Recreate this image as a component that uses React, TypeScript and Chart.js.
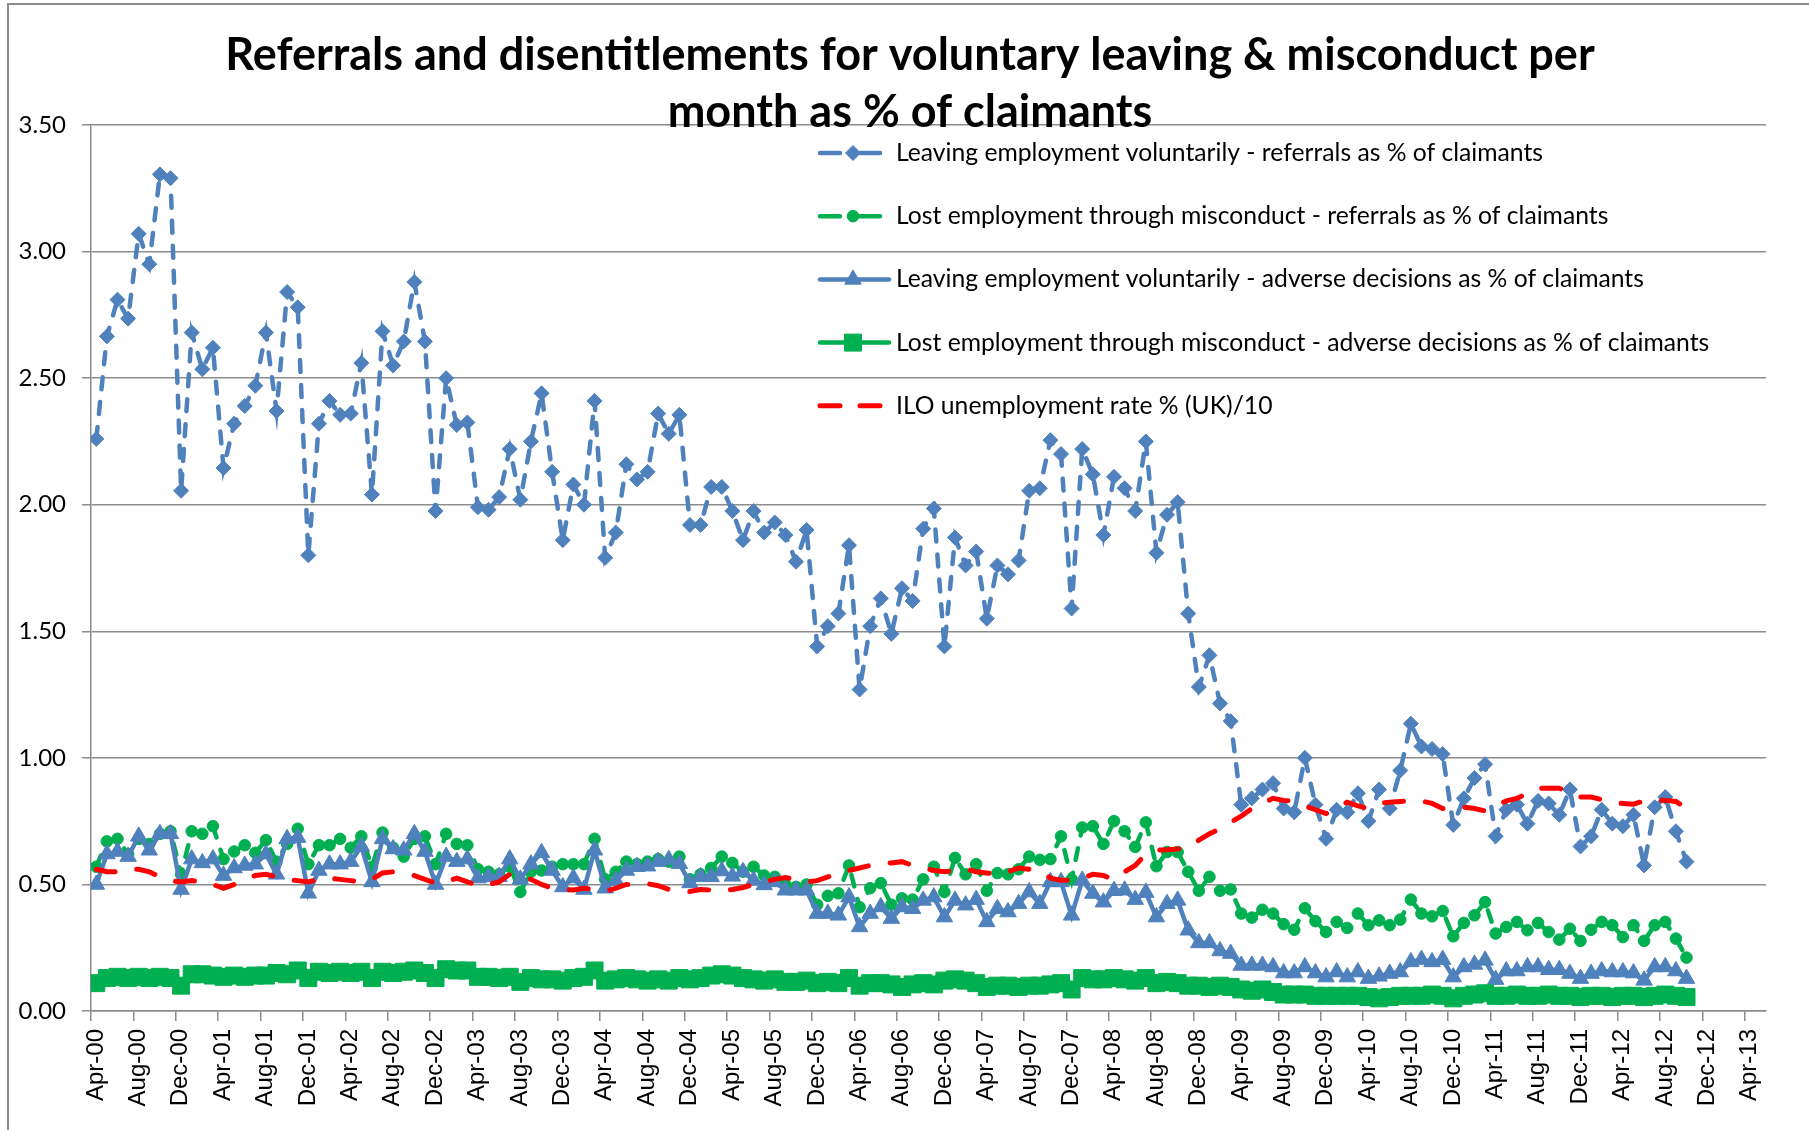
import React, { useEffect, useRef } from 'react';
import { Chart, registerables } from 'chart.js';

Chart.register(...registerables);

const TITLE_LINES = [
  'Referrals and disentitlements for voluntary leaving & misconduct per',
  'month as % of claimants',
];

const TICK_LABELS = [
  'Apr-00', 'Aug-00', 'Dec-00', 'Apr-01', 'Aug-01', 'Dec-01', 'Apr-02', 'Aug-02', 'Dec-02', 'Apr-03',
  'Aug-03', 'Dec-03', 'Apr-04', 'Aug-04', 'Dec-04', 'Apr-05', 'Aug-05', 'Dec-05', 'Apr-06', 'Aug-06',
  'Dec-06', 'Apr-07', 'Aug-07', 'Dec-07', 'Apr-08', 'Aug-08', 'Dec-08', 'Apr-09', 'Aug-09', 'Dec-09',
  'Apr-10', 'Aug-10', 'Dec-10', 'Apr-11', 'Aug-11', 'Dec-11', 'Apr-12', 'Aug-12', 'Dec-12', 'Apr-13',
];

const SERIES_NAMES = [
  'Leaving employment voluntarily - referrals as % of claimants',
  'Lost employment through misconduct - referrals as % of claimants',
  'Leaving employment voluntarily - adverse decisions as % of claimants',
  'Lost employment through misconduct - adverse decisions as % of claimants',
  'ILO unemployment rate % (UK)/10',
];

// monthly values, Apr-00 .. Oct-12
const VOL_REFERRALS = [
  2.26, 2.665, 2.81, 2.735, 3.07, 2.95, 3.305, 3.29, 2.055, 2.68,
  2.535, 2.62, 2.145, 2.32, 2.39, 2.47, 2.68, 2.37, 2.84, 2.78,
  1.80, 2.32, 2.41, 2.355, 2.36, 2.56, 2.04, 2.685, 2.55, 2.645,
  2.88, 2.645, 1.975, 2.50, 2.315, 2.325, 1.99, 1.98, 2.03, 2.22,
  2.02, 2.25, 2.44, 2.13, 1.86, 2.08, 2.00, 2.41, 1.79, 1.89,
  2.16, 2.10, 2.13, 2.36, 2.28, 2.355, 1.92, 1.92, 2.07, 2.07,
  1.975, 1.86, 1.975, 1.89, 1.93, 1.88, 1.775, 1.90, 1.44, 1.52,
  1.57, 1.84, 1.27, 1.52, 1.63, 1.49, 1.67, 1.62, 1.905, 1.985,
  1.44, 1.87, 1.76, 1.815, 1.55, 1.76, 1.725, 1.78, 2.055, 2.065,
  2.255, 2.20, 1.59, 2.22, 2.12, 1.88, 2.11, 2.065, 1.975, 2.25,
  1.81, 1.96, 2.01, 1.57, 1.28, 1.405, 1.215, 1.145, 0.815, 0.84,
  0.875, 0.90, 0.80, 0.785, 1.00, 0.815, 0.68, 0.795, 0.785, 0.86,
  0.75, 0.875, 0.80, 0.95, 1.135, 1.045, 1.035, 1.015, 0.735, 0.84,
  0.92, 0.975, 0.69, 0.795, 0.815, 0.74, 0.83, 0.82, 0.775, 0.875,
  0.65, 0.69, 0.795, 0.74, 0.73, 0.775, 0.575, 0.805, 0.845, 0.71,
  0.59,
];

const MIS_REFERRALS = [
  0.57, 0.67, 0.68, 0.62, 0.68, 0.66, 0.70, 0.71, 0.54, 0.71,
  0.70, 0.73, 0.60, 0.63, 0.655, 0.625, 0.675, 0.59, 0.66, 0.72,
  0.58, 0.655, 0.655, 0.68, 0.645, 0.69, 0.57, 0.705, 0.645, 0.61,
  0.68, 0.69, 0.58, 0.70, 0.66, 0.655, 0.56, 0.55, 0.54, 0.57,
  0.47, 0.55, 0.555, 0.57, 0.58, 0.58, 0.58, 0.68, 0.52, 0.55,
  0.59, 0.58, 0.59, 0.60, 0.59, 0.61, 0.52, 0.54, 0.565, 0.61,
  0.585, 0.55, 0.57, 0.535, 0.53, 0.50, 0.49, 0.50, 0.42, 0.455,
  0.465, 0.575, 0.41, 0.485, 0.505, 0.42, 0.445, 0.44, 0.52, 0.57,
  0.47, 0.605, 0.54, 0.58, 0.475, 0.545, 0.54, 0.56, 0.61, 0.597,
  0.60, 0.69, 0.52, 0.725, 0.73, 0.66, 0.75, 0.71, 0.648, 0.745,
  0.572, 0.628, 0.628, 0.55, 0.475, 0.53, 0.475, 0.48, 0.385, 0.369,
  0.40, 0.385, 0.343, 0.321, 0.406, 0.355, 0.312, 0.352, 0.328, 0.385,
  0.339, 0.358, 0.339, 0.361, 0.44, 0.385, 0.374, 0.395, 0.295, 0.348,
  0.378, 0.43, 0.306, 0.332, 0.352, 0.319, 0.348, 0.312, 0.282, 0.325,
  0.277, 0.321, 0.352, 0.339, 0.292, 0.339, 0.277, 0.339, 0.352, 0.286,
  0.211,
];

const VOL_ADVERSE = [
  0.50, 0.62, 0.63, 0.61, 0.69, 0.635, 0.70, 0.70, 0.48, 0.60,
  0.585, 0.60, 0.535, 0.565, 0.575, 0.58, 0.62, 0.54, 0.68, 0.685,
  0.465, 0.555, 0.58, 0.58, 0.59, 0.65, 0.51, 0.68, 0.64, 0.635,
  0.70, 0.63, 0.50, 0.61, 0.59, 0.60, 0.525, 0.53, 0.53, 0.60,
  0.52, 0.58, 0.625, 0.555, 0.49, 0.525, 0.48, 0.635, 0.485, 0.515,
  0.555, 0.57, 0.572, 0.59, 0.598, 0.582, 0.506, 0.53, 0.53, 0.553,
  0.532, 0.55, 0.516, 0.498, 0.51, 0.477, 0.477, 0.477, 0.385, 0.385,
  0.378, 0.45, 0.332, 0.385, 0.411, 0.365, 0.411, 0.404, 0.437, 0.45,
  0.371, 0.437, 0.418, 0.44, 0.352, 0.404, 0.391, 0.424, 0.47, 0.424,
  0.51, 0.51, 0.378, 0.516, 0.464, 0.43, 0.475, 0.477, 0.44, 0.468,
  0.371, 0.424, 0.437, 0.319, 0.269, 0.269, 0.237, 0.227, 0.18, 0.18,
  0.18, 0.174, 0.15, 0.15, 0.174, 0.15, 0.134, 0.154, 0.134, 0.154,
  0.128, 0.137, 0.148, 0.154, 0.194, 0.203, 0.194, 0.203, 0.134, 0.174,
  0.184, 0.20, 0.124, 0.158, 0.158, 0.174, 0.174, 0.163, 0.163, 0.148,
  0.128, 0.148, 0.158, 0.154, 0.154, 0.15, 0.121, 0.174, 0.174, 0.158,
  0.128,
];

const MIS_ADVERSE = [
  0.11, 0.13, 0.135, 0.13, 0.135, 0.13, 0.135, 0.13, 0.10, 0.145,
  0.145, 0.14, 0.135, 0.14, 0.135, 0.14, 0.14, 0.15, 0.145, 0.16,
  0.13, 0.155, 0.15, 0.155, 0.15, 0.155, 0.13, 0.155, 0.15, 0.155,
  0.16, 0.15, 0.13, 0.165, 0.16, 0.16, 0.135, 0.135, 0.13, 0.135,
  0.115, 0.13, 0.125, 0.125, 0.12, 0.13, 0.135, 0.16, 0.12, 0.125,
  0.13, 0.125, 0.12, 0.125, 0.12, 0.13, 0.125, 0.13, 0.14, 0.145,
  0.14, 0.13, 0.125, 0.12, 0.125, 0.115, 0.115, 0.12, 0.11, 0.115,
  0.11, 0.13, 0.10, 0.11, 0.11, 0.105, 0.095, 0.105, 0.11, 0.105,
  0.12, 0.125, 0.12, 0.11, 0.095, 0.10, 0.10, 0.095, 0.10, 0.10,
  0.105, 0.11, 0.085, 0.13, 0.125, 0.125, 0.13, 0.125, 0.12, 0.13,
  0.11, 0.115, 0.11, 0.10, 0.10, 0.095, 0.10, 0.095, 0.085, 0.08,
  0.085, 0.075, 0.065, 0.065, 0.065, 0.06, 0.06, 0.06, 0.06, 0.06,
  0.055, 0.05, 0.055, 0.06, 0.06, 0.06, 0.065, 0.06, 0.05, 0.06,
  0.065, 0.07, 0.06, 0.06, 0.065, 0.06, 0.06, 0.065, 0.06, 0.06,
  0.055, 0.06, 0.06, 0.055, 0.06, 0.06, 0.055, 0.06, 0.065, 0.06,
  0.055,
];

// Apr-00 .. Nov-12
const ILO_RATE = [
  0.56, 0.55, 0.55, 0.56, 0.56, 0.55, 0.53, 0.515, 0.51, 0.515,
  0.51, 0.50, 0.485, 0.50, 0.52, 0.535, 0.54, 0.53, 0.52, 0.515,
  0.51, 0.52, 0.525, 0.52, 0.515, 0.51, 0.52, 0.545, 0.55, 0.545,
  0.535, 0.52, 0.505, 0.51, 0.525, 0.51, 0.495, 0.50, 0.51, 0.54,
  0.53, 0.52, 0.50, 0.485, 0.48, 0.478, 0.485, 0.48, 0.472, 0.485,
  0.50, 0.50, 0.503, 0.495, 0.48, 0.476, 0.472, 0.48, 0.478, 0.473,
  0.48, 0.488, 0.50, 0.51, 0.52, 0.527, 0.52, 0.51, 0.515, 0.53,
  0.54, 0.555, 0.565, 0.575, 0.583, 0.585, 0.59, 0.575, 0.565, 0.555,
  0.55, 0.555, 0.562, 0.55, 0.545, 0.54, 0.55, 0.565, 0.56, 0.555,
  0.525, 0.517, 0.517, 0.525, 0.54, 0.535, 0.52, 0.55, 0.575, 0.62,
  0.635, 0.637, 0.64, 0.645, 0.675, 0.70, 0.72, 0.745, 0.77, 0.80,
  0.82, 0.84, 0.832, 0.828, 0.81, 0.795, 0.78, 0.80, 0.825, 0.81,
  0.80, 0.82, 0.825, 0.828, 0.83, 0.83, 0.82, 0.80, 0.80, 0.805,
  0.80, 0.79, 0.81, 0.83, 0.84, 0.86, 0.88, 0.88, 0.88, 0.86,
  0.845, 0.845, 0.835, 0.822, 0.82, 0.817, 0.83, 0.833, 0.832, 0.828,
  0.80, 0.795,
];

const Y_MIN = 0;
const Y_MAX = 3.5;
const Y_STEP = 0.5;
const MONTHS_ON_AXIS = 158; // Apr-00 .. May-13 slots
const MONTHS_PER_TICK = 4;

const BLUE = '#4F81BD';
const GREEN = '#00B050';
const RED = '#FF0000';
const GRID = '#8c8c8c';

const toPoints = (values: number[]) => values.map((v, i) => ({ x: i + 0.5, y: v }));

function drawMarker(ctx: CanvasRenderingContext2D, style: string, x: number, y: number, r: number, color: string) {
  ctx.save();
  ctx.setLineDash([]);
  ctx.fillStyle = color;
  ctx.strokeStyle = color;
  ctx.lineWidth = 1;
  ctx.beginPath();
  if (style === 'rectRot') {
    ctx.moveTo(x - r, y);
    ctx.lineTo(x, y - r);
    ctx.lineTo(x + r, y);
    ctx.lineTo(x, y + r);
    ctx.closePath();
  } else if (style === 'circle') {
    ctx.arc(x, y, r, 0, Math.PI * 2);
  } else if (style === 'triangle') {
    ctx.moveTo(x, y - r);
    ctx.lineTo(x + 0.866 * r, y + r / 2);
    ctx.lineTo(x - 0.866 * r, y + r / 2);
    ctx.closePath();
  } else if (style === 'rect') {
    const s = Math.SQRT1_2 * r;
    ctx.rect(x - s, y - s, 2 * s, 2 * s);
  }
  ctx.fill();
  ctx.stroke();
  ctx.restore();
}

const overlayPlugin = {
  id: 'overlayTitleLegend',
  afterDraw(chart: any) {
    const ctx: CanvasRenderingContext2D = chart.ctx;
    // Title
    ctx.save();
    ctx.fillStyle = '#000';
    ctx.font = 'bold 45px Lato';
    ctx.textAlign = 'center';
    ctx.textBaseline = 'alphabetic';
    ctx.fillText(TITLE_LINES[0], 910, 70);
    ctx.fillText(TITLE_LINES[1], 910, 127);
    ctx.restore();

    // Legend
    const x0 = 818;
    const textX = 896;
    const firstY = 153;
    const stepY = 63.2;
    chart.data.datasets.forEach((ds: any, k: number) => {
      const y = firstY + k * stepY;
      ctx.save();
      ctx.strokeStyle = ds.borderColor;
      ctx.lineWidth = ds.borderWidth;
      ctx.lineCap = 'round';
      ctx.setLineDash([]);
      ctx.beginPath();
      if (ds.borderDash && ds.borderDash.length) {
        ctx.moveTo(x0 + 2, y);
        ctx.lineTo(x0 + 22, y);
        ctx.moveTo(x0 + 42, y);
        ctx.lineTo(x0 + 62, y);
      } else {
        ctx.moveTo(x0 + 2, y);
        ctx.lineTo(x0 + 71, y);
      }
      ctx.stroke();
      ctx.restore();
      if (ds.pointRadius > 0) {
        drawMarker(ctx, ds.pointStyle, x0 + 35, y, ds.pointRadius, ds.pointBackgroundColor);
      }
      ctx.save();
      ctx.fillStyle = '#000';
      ctx.font = '24.7px Lato';
      ctx.textAlign = 'left';
      ctx.textBaseline = 'middle';
      ctx.fillText(ds.label, textX, y);
      ctx.restore();
    });
  },
};

export default function App() {
  const canvasRef = useRef<HTMLCanvasElement | null>(null);

  useEffect(() => {
    if (!canvasRef.current) return;
    Chart.defaults.font.family = 'Lato';
    const chart = new Chart(canvasRef.current, {
      type: 'line',
      data: {
        datasets: [
          {
            label: SERIES_NAMES[0],
            data: toPoints(VOL_REFERRALS),
            borderColor: BLUE,
            backgroundColor: BLUE,
            borderWidth: 4.5,
            borderDash: [12, 13],
            borderCapStyle: 'round',
            pointStyle: 'rectRot',
            pointRadius: 7.5,
            pointBorderWidth: 1,
            pointBackgroundColor: BLUE,
            pointBorderColor: BLUE,
            order: 4,
          },
          {
            label: SERIES_NAMES[1],
            data: toPoints(MIS_REFERRALS),
            borderColor: GREEN,
            backgroundColor: GREEN,
            borderWidth: 4.5,
            borderDash: [12, 13],
            borderCapStyle: 'round',
            pointStyle: 'circle',
            pointRadius: 5.8,
            pointBorderWidth: 1,
            pointBackgroundColor: GREEN,
            pointBorderColor: GREEN,
            order: 3,
          },
          {
            label: SERIES_NAMES[2],
            data: toPoints(VOL_ADVERSE),
            borderColor: BLUE,
            backgroundColor: BLUE,
            borderWidth: 4.5,
            pointStyle: 'triangle',
            pointRadius: 9.5,
            pointBorderWidth: 1,
            pointBackgroundColor: BLUE,
            pointBorderColor: BLUE,
            order: 2,
          },
          {
            label: SERIES_NAMES[3],
            data: toPoints(MIS_ADVERSE),
            borderColor: GREEN,
            backgroundColor: GREEN,
            borderWidth: 4.5,
            pointStyle: 'rect',
            pointRadius: 12,
            pointBorderWidth: 1,
            pointBackgroundColor: GREEN,
            pointBorderColor: GREEN,
            order: 1,
          },
          {
            label: SERIES_NAMES[4],
            data: toPoints(ILO_RATE),
            borderColor: RED,
            backgroundColor: RED,
            borderWidth: 5,
            borderDash: [19, 22],
            borderCapStyle: 'round',
            pointRadius: 0,
            pointStyle: 'line',
            pointBackgroundColor: RED,
            order: 0,
          },
        ],
      },
      options: {
        responsive: false,
        animation: false,
        devicePixelRatio: 1,
        layout: { padding: { top: 125, right: 43, left: 0, bottom: 0 } },
        elements: { line: { tension: 0 } },
        plugins: {
          legend: { display: false },
          title: { display: false },
          tooltip: { enabled: false },
        },
        scales: {
          x: {
            type: 'linear',
            min: 0,
            max: MONTHS_ON_AXIS,
            afterBuildTicks: (s: any) => {
              s.ticks = TICK_LABELS.map((_, k) => ({ value: k * MONTHS_PER_TICK }));
            },
            afterFit: (s: any) => {
              s.height = 119;
            },
            ticks: {
              stepSize: MONTHS_PER_TICK,
              autoSkip: false,
              minRotation: 90,
              maxRotation: 90,
              labelOffset: 5,
              padding: 8,
              color: '#000',
              font: { family: 'Liberation Sans', size: 24 },
              callback: (v: any) => TICK_LABELS[Math.round(Number(v) / MONTHS_PER_TICK)] ?? '',
            },
            grid: {
              drawOnChartArea: false,
              drawTicks: true,
              tickLength: 10,
              color: GRID,
              lineWidth: 1.5,
            },
            border: { display: true, color: GRID, width: 1.5 },
          },
          y: {
            min: Y_MIN,
            max: Y_MAX,
            afterFit: (s: any) => {
              s.width = 91;
            },
            ticks: {
              stepSize: Y_STEP,
              padding: 16,
              color: '#000',
              font: { family: 'Lato', size: 24 },
              callback: (v: any) => Number(v).toFixed(2),
            },
            grid: {
              color: GRID,
              lineWidth: 1.5,
              tickLength: 9,
              drawTicks: true,
            },
            border: { display: true, color: GRID, width: 1.5 },
          },
        },
      },
      plugins: [overlayPlugin],
    } as any);
    return () => chart.destroy();
  }, []);

  return (
    <div style={{ position: 'absolute', left: 0, top: 0, width: 1809, height: 1130, background: '#fff', overflow: 'hidden' }}>
      <div
        style={{
          position: 'absolute',
          left: 7,
          top: 3,
          width: 1809,
          height: 1130,
          borderLeft: '2px solid #8c8c8c',
          borderTop: '2px solid #8c8c8c',
        }}
      />
      <canvas ref={canvasRef} width={1809} height={1130} style={{ position: 'absolute', left: 0, top: 0 }} />
    </div>
  );
}
